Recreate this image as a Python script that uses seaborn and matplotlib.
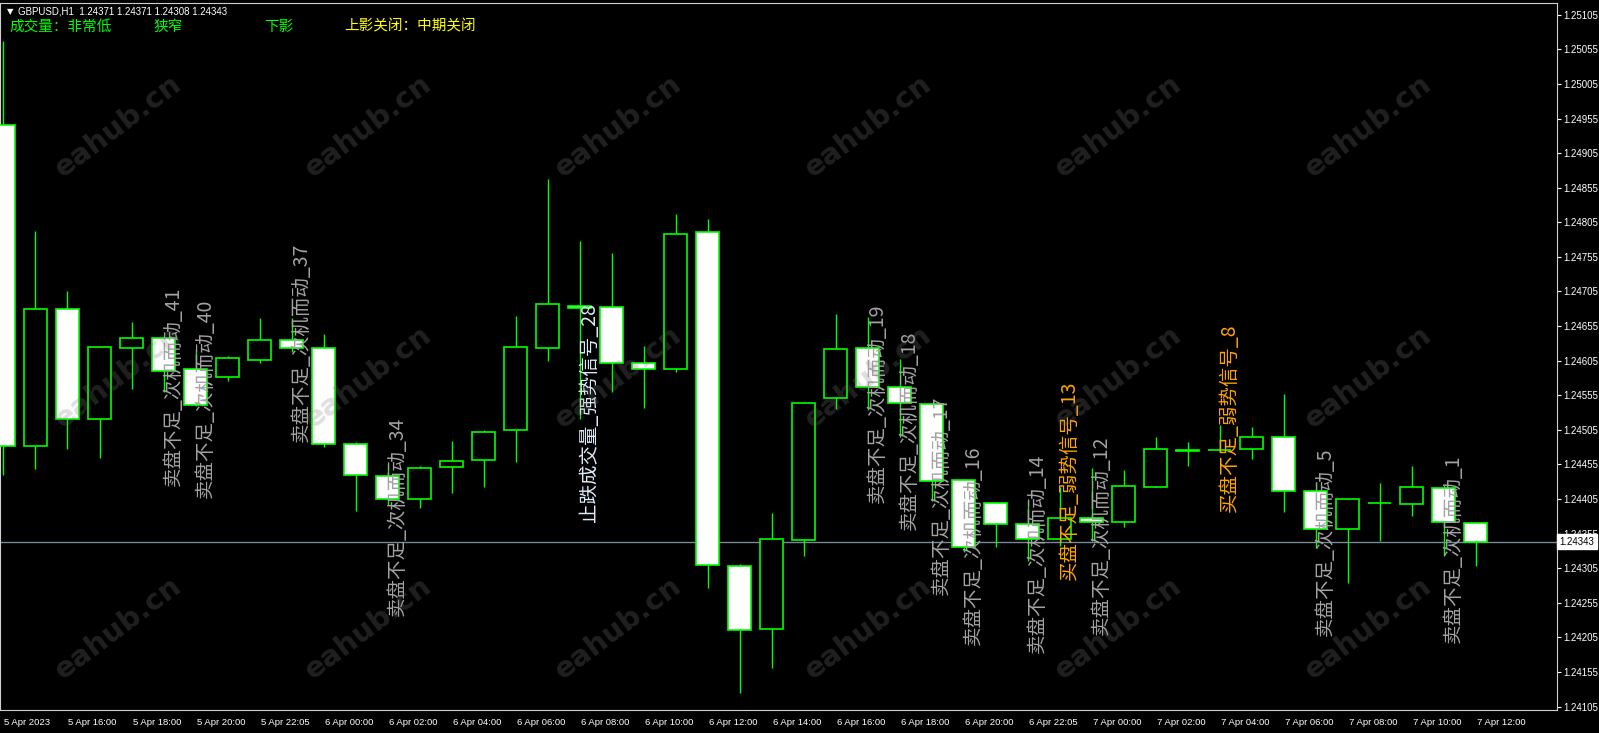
import numpy as np
import pandas as pd
import seaborn as sns
import matplotlib.pyplot as plt
import matplotlib.transforms as mtransforms

# GBPUSD H1 candles, 5 Apr 14:00 -> 7 Apr 12:00
opens = [1.24945, 1.24481, 1.24680, 1.24521, 1.24623, 1.24638, 1.24593, 1.24581, 1.24606, 1.24635,
         1.24623, 1.24484, 1.24438, 1.24405, 1.24451, 1.24461, 1.24505, 1.24623, 1.24684, 1.24682,
         1.24601, 1.24593, 1.24791, 1.24308, 1.24217, 1.24346, 1.24551, 1.24623, 1.24567, 1.24542,
         1.24433, 1.24399, 1.24369, 1.24347, 1.24377, 1.24372, 1.24423, 1.24476, 1.24476, 1.24477,
         1.24495, 1.24416, 1.24362, 1.24399, 1.24398, 1.24421, 1.24371]
highs = [1.25067, 1.24793, 1.24706, 1.24626, 1.24661, 1.24639, 1.24622, 1.24612, 1.24666, 1.24667,
         1.24643, 1.24487, 1.24457, 1.24453, 1.24489, 1.24505, 1.24670, 1.24868, 1.24778, 1.24760,
         1.24626, 1.24817, 1.24810, 1.24311, 1.24385, 1.24545, 1.24673, 1.24668, 1.24607, 1.24543,
         1.24434, 1.24400, 1.24404, 1.24422, 1.24450, 1.24447, 1.24495, 1.24487, 1.24512, 1.24509,
         1.24557, 1.24430, 1.24405, 1.24428, 1.24453, 1.24425, 1.24371]
lows = [1.24440, 1.24449, 1.24478, 1.24465, 1.24564, 1.24559, 1.24540, 1.24575, 1.24602, 1.24618,
        1.24480, 1.24387, 1.24397, 1.24392, 1.24413, 1.24422, 1.24459, 1.24605, 1.24521, 1.24559,
        1.24536, 1.24589, 1.24276, 1.24125, 1.24161, 1.24323, 1.24535, 1.24534, 1.24495, 1.24402,
        1.24328, 1.24335, 1.24316, 1.24337, 1.24344, 1.24364, 1.24423, 1.24453, 1.24473, 1.24463,
        1.24386, 1.24334, 1.24284, 1.24345, 1.24380, 1.24323, 1.24308]
closes = [1.24481, 1.24680, 1.24521, 1.24625, 1.24638, 1.24590, 1.24541, 1.24609, 1.24635, 1.24623,
          1.24485, 1.24440, 1.24405, 1.24450, 1.24460, 1.24502, 1.24625, 1.24687, 1.24681, 1.24601,
          1.24593, 1.24788, 1.24309, 1.24215, 1.24347, 1.24544, 1.24622, 1.24567, 1.24544, 1.24431,
          1.24335, 1.24369, 1.24347, 1.24377, 1.24372, 1.24424, 1.24477, 1.24474, 1.24476, 1.24495,
          1.24416, 1.24362, 1.24405, 1.24399, 1.24422, 1.24372, 1.24343]

time_labels = ['5 Apr 2023', '5 Apr 16:00', '5 Apr 18:00', '5 Apr 20:00', '5 Apr 22:05',
               '6 Apr 00:00', '6 Apr 02:00', '6 Apr 04:00', '6 Apr 06:00', '6 Apr 08:00',
               '6 Apr 10:00', '6 Apr 12:00', '6 Apr 14:00', '6 Apr 16:00', '6 Apr 18:00',
               '6 Apr 20:00', '6 Apr 22:05', '7 Apr 00:00', '7 Apr 02:00', '7 Apr 04:00',
               '7 Apr 06:00', '7 Apr 08:00', '7 Apr 10:00', '7 Apr 12:00']
price_ticks = [1.24105, 1.24155, 1.24205, 1.24255, 1.24305, 1.24355, 1.24405, 1.24455,
               1.24505, 1.24555, 1.24605, 1.24655, 1.24705, 1.24755, 1.24805, 1.24855,
               1.24905, 1.24955, 1.25005, 1.25055, 1.25105]
last_price = 1.24343

# signal labels: bar they belong to, price at label centre, text
label_bars = [5, 6, 9, 12, 18, 27, 28, 29, 30, 32, 33, 34, 38, 41, 45]
label_prices = [1.24568, 1.24551, 1.24632, 1.24380, 1.24530, 1.24543, 1.24505, 1.24411,
                1.24338, 1.24326, 1.24432, 1.24353, 1.24522, 1.24343, 1.24333]
label_texts = ['卖盘不足_次机而动_41', '卖盘不足_次机而动_40', '卖盘不足_次机而动_37',
               '卖盘不足_次机而动_34', '止跌成交量_强势信号_28', '卖盘不足_次机而动_19',
               '卖盘不足_次机而动_18', '卖盘不足_次机而动_17', '卖盘不足_次机而动_16',
               '卖盘不足_次机而动_14', '买盘不足_弱势信号_13', '卖盘不足_次机而动_12',
               '买盘不足_弱势信号_8', '卖盘不足_次机而动_5', '卖盘不足_次机而动_1']

df = pd.DataFrame({'open': opens, 'high': highs, 'low': lows, 'close': closes})
df['bar'] = np.arange(len(df))
df['bear'] = df['close'] < df['open']

sns.set_theme(style='dark', rc={'axes.facecolor': 'black', 'figure.facecolor': 'black',
                                'savefig.facecolor': 'black'})
plt.rcParams['font.family'] = ['Noto Sans CJK SC', 'DejaVu Sans']

W, H = 1599, 733
fig = plt.figure(figsize=(W / 100, H / 100), dpi=100)
ax = fig.add_axes([0, 1 - 710 / H, 1557 / W, 707 / H])
ax.set_facecolor('black')
ax.grid(False)

green = '#00ff00'
ax.vlines(df['bar'], df['low'], df['high'], color=green, lw=1, zorder=2)
ax.bar(df['bar'], (df['close'] - df['open']).abs(),
       bottom=df[['open', 'close']].min(axis=1), width=0.72,
       color=np.where(df['bear'], 'white', 'black'), edgecolor=green,
       linewidth=1.2, zorder=3)

ax.axhline(last_price, color='#778899', lw=1, zorder=1)

ax.set_xlim(-0.109, 48.54)
ax.set_ylim(1.24100, 1.25122)

# price scale on the right
ax.yaxis.tick_right()
ax.set_yticks(price_ticks)
ax.set_yticklabels(['%.5f' % p for p in price_ticks], family='Liberation Sans')
ax.tick_params(axis='y', direction='out', length=3, width=0.8, colors='white',
               labelsize=7, pad=1.5)

ax.set_xticks(df['bar'][::2])
ax.set_xticklabels(time_labels, ha='left', family='Liberation Sans')
ax.tick_params(axis='x', direction='out', length=4, width=0.8, colors='white',
               labelsize=6.8, pad=2)
off = mtransforms.ScaledTranslation(1 / 100, 0, fig.dpi_scale_trans)
for t in ax.get_xticklabels():
    t.set_transform(t.get_transform() + off)

for s in ax.spines.values():
    s.set_color('#d0d0d0')
    s.set_linewidth(0.8)

# current price marker on the scale
ax.text(1.0015, last_price, '%.5f' % last_price, transform=ax.get_yaxis_transform(),
        ha='left', va='center', fontsize=7, color='black', family='Liberation Sans',
        bbox=dict(boxstyle='square,pad=0.25', fc='white', ec='white'), clip_on=False)

# signal labels
for b, p, txt in zip(label_bars, label_prices, label_texts):
    if txt.startswith('止跌'):
        col = '#dcecf8'
    elif txt.startswith('买盘'):
        col = '#ffa500'
    else:
        col = '#a3a3a3'
    ax.text(b + 0.31, p, txt, rotation=90, ha='center', va='center',
            fontsize=14, color=col, zorder=5)

# watermark
for py in [126, 377, 628]:
    for px in [118, 368, 618, 868, 1118, 1368]:
        fig.text(px / W, 1 - py / H, 'eahub.cn', rotation=37, ha='center', va='center',
                 fontsize=21, fontweight='bold', color='grey', alpha=0.25,
                 family='DejaVu Sans', zorder=10)

# header
fig.text(7 / W, 1 - 11.5 / H, '▼', fontsize=6, color='white', va='center',
         family='DejaVu Sans')
fig.text(18 / W, 1 - 11.5 / H, 'GBPUSD,H1  1.24371 1.24371 1.24308 1.24343',
         fontsize=7, color='white', va='center', family='Liberation Sans')
fig.text(9 / W, 1 - 26.5 / H, '成交量：非常低', fontsize=10.5, color=green, va='center')
fig.text(154 / W, 1 - 26.5 / H, '狭窄', fontsize=10.5, color=green, va='center')
fig.text(264 / W, 1 - 26.5 / H, '下影', fontsize=10.5, color=green, va='center')
fig.text(344 / W, 1 - 26.5 / H, '上影关闭：中期关闭', fontsize=10.5, color='#ffff00',
         va='center')

fig.savefig('out.png', dpi=100, facecolor='black')
